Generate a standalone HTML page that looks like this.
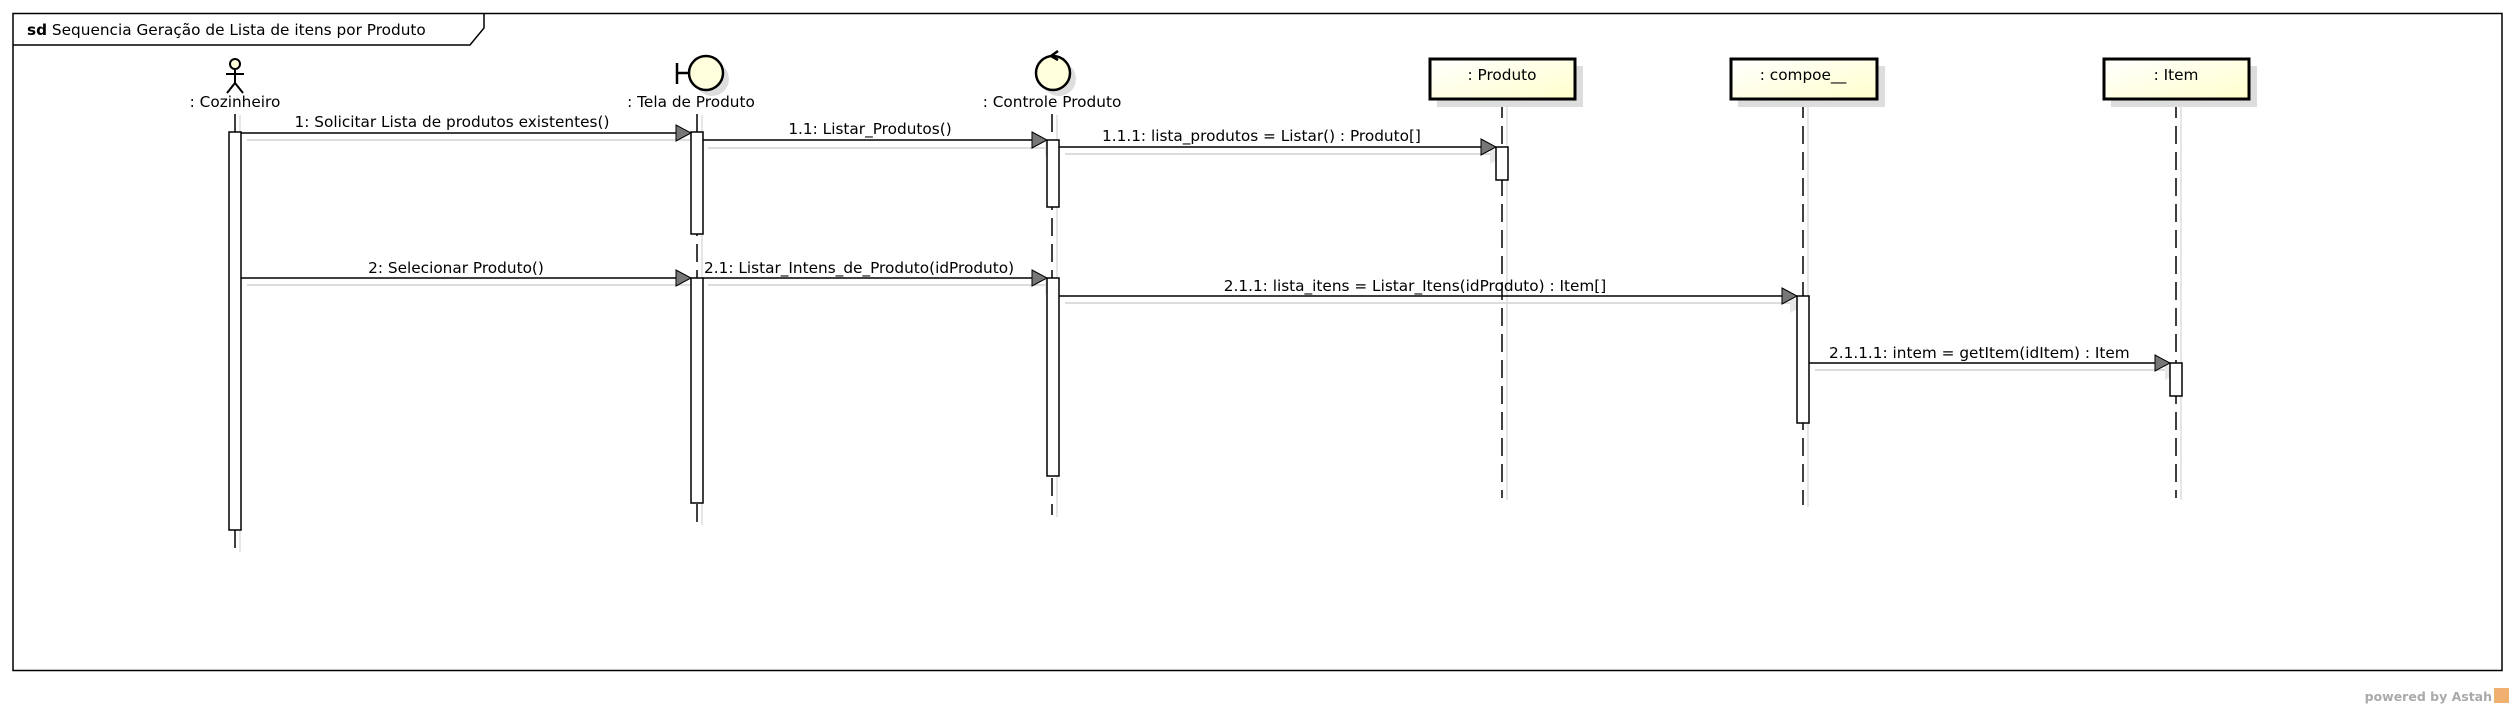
<!DOCTYPE html>
<html><head><meta charset="utf-8"><style>
html,body{margin:0;padding:0;background:#fff;width:2514px;height:709px;overflow:hidden}
text{font-family:"DejaVu Sans","Liberation Sans",sans-serif;font-size:15.3px;fill:#000}
</style></head><body>
<svg width="2514" height="709" viewBox="0 0 2514 709" xmlns="http://www.w3.org/2000/svg">
<defs>
<linearGradient id="g" x1="0" y1="0" x2="1" y2="1"><stop offset="0" stop-color="#ffffff"/><stop offset="1" stop-color="#ffffcc"/></linearGradient>
</defs>
<rect x="13" y="13.5" width="2489" height="657" fill="none" stroke="#000" stroke-width="1.5"/>
<path d="M13 45 H470 L484 28 V13" fill="none" stroke="#000" stroke-width="1.5"/>
<text x="27" y="35"><tspan font-weight="bold">sd</tspan> Sequencia Geração de Lista de itens por Produto</text>

<g stroke="#ddd" stroke-width="1.5">
<line x1="240" y1="115" x2="240" y2="552"/>
<line x1="702" y1="115" x2="702" y2="525"/>
<line x1="1057" y1="115" x2="1057" y2="517"/>
<line x1="1507" y1="105" x2="1507" y2="500"/>
<line x1="1808" y1="105" x2="1808" y2="507"/>
<line x1="2181" y1="105" x2="2181" y2="500"/>
</g>
<g stroke="#000" stroke-width="1.5" stroke-dasharray="18,8">
<line x1="235" y1="114" x2="235" y2="550"/>
<line x1="697" y1="114" x2="697" y2="523"/>
<line x1="1052" y1="114" x2="1052" y2="515"/>
<line x1="1502" y1="100" x2="1502" y2="498"/>
<line x1="1803" y1="100" x2="1803" y2="505"/>
<line x1="2176" y1="100" x2="2176" y2="498"/>
</g>

<g stroke="#000" stroke-width="2" fill="#ffffdd">
<circle cx="235" cy="64" r="5"/>
<line x1="235" y1="69" x2="235" y2="83"/>
<line x1="226" y1="74" x2="244" y2="74"/>
<polyline points="227,93 235,83 243,93" fill="none"/>
</g>
<text x="235" y="107" text-anchor="middle">: Cozinheiro</text>

<circle cx="712" cy="79" r="17" fill="#ddd"/>
<g stroke="#000" stroke-width="2.5">
<line x1="677" y1="63" x2="677" y2="84"/>
<line x1="677" y1="73" x2="689" y2="73"/>
<circle cx="706" cy="73" r="17" fill="#ffffdd"/>
</g>
<text x="691" y="107" text-anchor="middle">: Tela de Produto</text>

<circle cx="1059" cy="79" r="17" fill="#ddd"/>
<g stroke="#000" stroke-width="2.5" fill="#ffffdd">
<circle cx="1053" cy="73" r="17"/>
<polyline points="1058,51 1051,56 1058,60" fill="none"/>
</g>
<text x="1052" y="107" text-anchor="middle">: Controle Produto</text>

<g>
<rect x="1437" y="66" width="146" height="41" fill="#ddd"/>
<rect x="1430" y="59" width="145" height="40" fill="url(#g)" stroke="#000" stroke-width="3"/>
<text x="1502" y="80" text-anchor="middle">: Produto</text>
<rect x="1738" y="66" width="147" height="41" fill="#ddd"/>
<rect x="1731" y="59" width="146" height="40" fill="url(#g)" stroke="#000" stroke-width="3"/>
<text x="1803" y="80" text-anchor="middle">: compoe__</text>
<rect x="2111" y="66" width="146" height="41" fill="#ddd"/>
<rect x="2104" y="59" width="145" height="40" fill="url(#g)" stroke="#000" stroke-width="3"/>
<text x="2176" y="80" text-anchor="middle">: Item</text>
</g>

<g stroke="#ddd" stroke-width="2" fill="#e8e8e8">
<line x1="247" y1="140" x2="690" y2="140"/><polygon points="690,134 705,142 690,150" stroke="none"/>
<line x1="708" y1="148" x2="1045" y2="148"/><polygon points="1045,141 1060,149 1045,157" stroke="none"/>
<line x1="1065" y1="154" x2="1490" y2="154"/><polygon points="1490,148 1505,156 1490,164" stroke="none"/>
<line x1="247" y1="285" x2="690" y2="285"/><polygon points="690,279 705,287 690,295" stroke="none"/>
<line x1="708" y1="285" x2="1045" y2="285"/><polygon points="1045,279 1060,287 1045,295" stroke="none"/>
<line x1="1065" y1="303" x2="1790" y2="303"/><polygon points="1790,297 1805,305 1790,313" stroke="none"/>
<line x1="1815" y1="370" x2="2165" y2="370"/><polygon points="2165,364 2180,372 2165,380" stroke="none"/>
</g>

<g fill="#fff" stroke="#000" stroke-width="1.5">
<rect x="229" y="132" width="12" height="398"/>
<rect x="691" y="132" width="12" height="102"/>
<rect x="691" y="278" width="12" height="225"/>
<rect x="1047" y="140" width="12" height="67"/>
<rect x="1047" y="278" width="12" height="198"/>
<rect x="1496" y="147" width="12" height="33"/>
<rect x="1797" y="296" width="12" height="127"/>
<rect x="2170" y="363" width="12" height="33"/>
</g>

<g stroke="#000" stroke-width="1.5" fill="#777">
<line x1="241" y1="133" x2="676" y2="133"/><polygon points="676,125 691,133 676,141" stroke="#000" stroke-width="1"/>
<line x1="703" y1="140" x2="1032" y2="140"/><polygon points="1032,132 1047,140 1032,148" stroke="#000" stroke-width="1"/>
<line x1="1059" y1="147" x2="1481" y2="147"/><polygon points="1481,139 1496,147 1481,155" stroke="#000" stroke-width="1"/>
<line x1="241" y1="278" x2="676" y2="278"/><polygon points="676,270 691,278 676,286" stroke="#000" stroke-width="1"/>
<line x1="703" y1="278" x2="1032" y2="278"/><polygon points="1032,270 1047,278 1032,286" stroke="#000" stroke-width="1"/>
<line x1="1059" y1="296" x2="1782" y2="296"/><polygon points="1782,288 1797,296 1782,304" stroke="#000" stroke-width="1"/>
<line x1="1809" y1="363" x2="2155" y2="363"/><polygon points="2155,355 2170,363 2155,371" stroke="#000" stroke-width="1"/>
</g>

<text x="452" y="127" text-anchor="middle">1: Solicitar Lista de produtos existentes()</text>
<text x="870" y="134" text-anchor="middle">1.1: Listar_Produtos()</text>
<text x="1102" y="141">1.1.1: lista_produtos = Listar() : Produto[]</text>
<text x="456" y="273" text-anchor="middle">2: Selecionar Produto()</text>
<text x="704" y="273">2.1: Listar_Intens_de_Produto(idProduto)</text>
<text x="1415" y="291" text-anchor="middle">2.1.1: lista_itens = Listar_Itens(idProduto) : Item[]</text>
<text x="1829" y="358">2.1.1.1: intem = getItem(idItem) : Item</text>

<text x="2492" y="701" text-anchor="end" style="font-size:12.5px;font-weight:bold;fill:#aaa">powered by Astah</text>
<rect x="2494" y="688" width="15" height="15" fill="#f0b070"/>
</svg>
</body></html>
